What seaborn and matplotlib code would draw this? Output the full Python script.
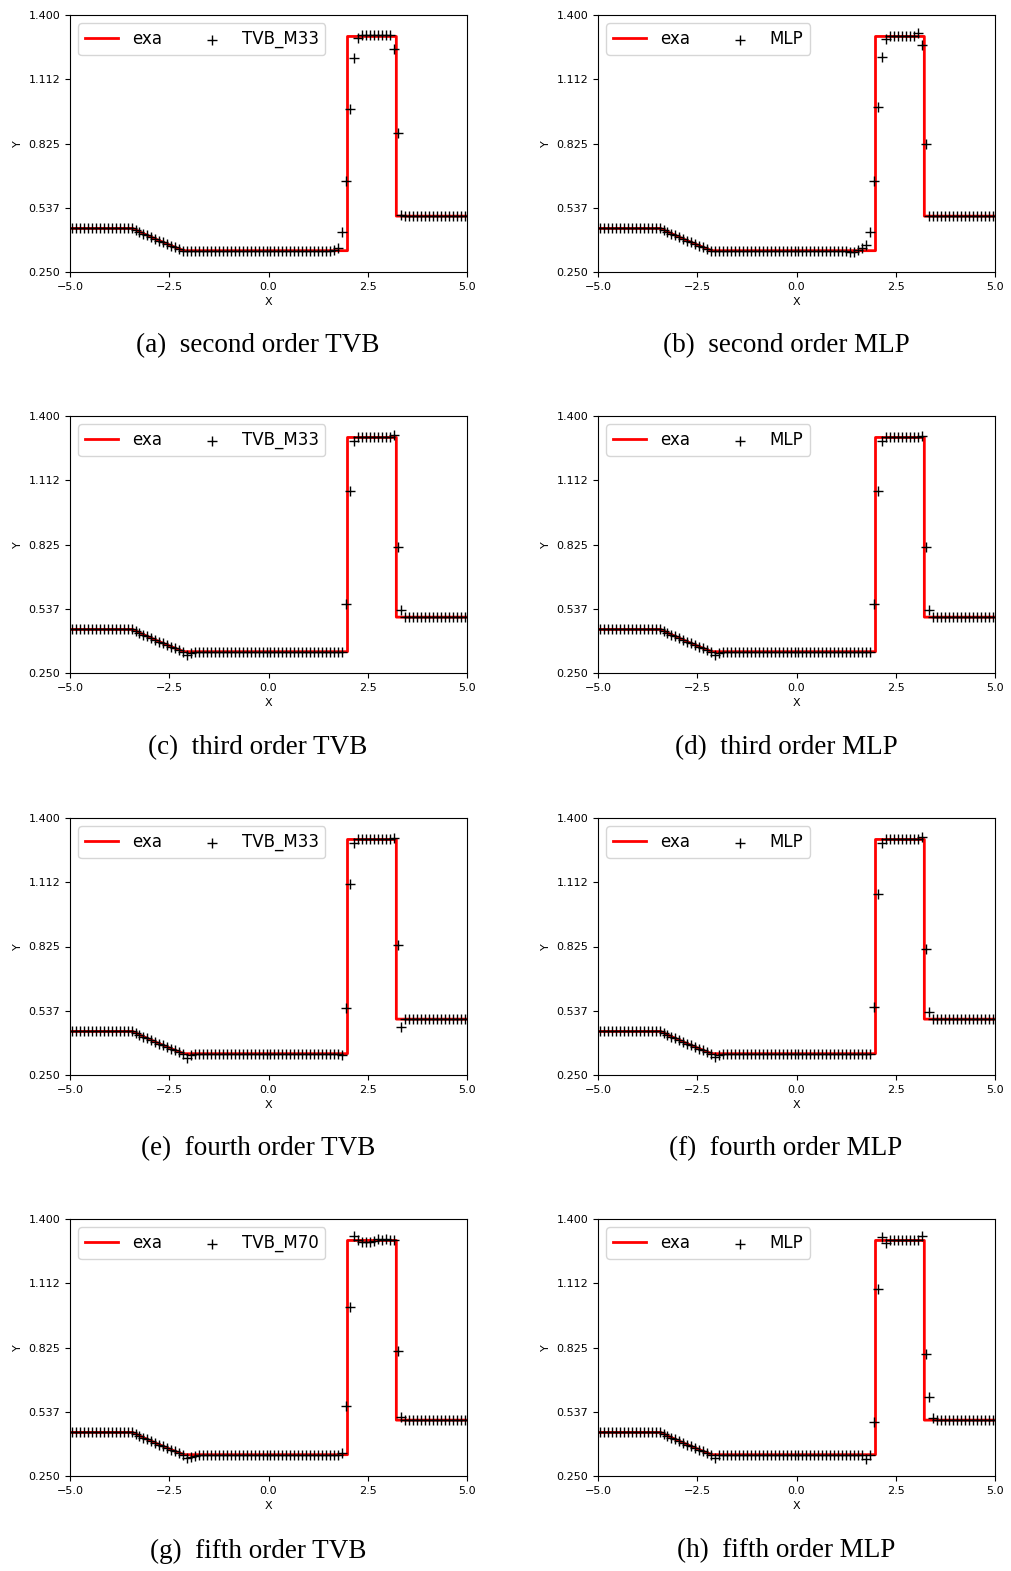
import numpy as np
import matplotlib
matplotlib.use("Agg")
import matplotlib.pyplot as plt
import seaborn as sns

# ---- data -------------------------------------------------------------
# cell centres of the 100-cell grid on [-5, 5]
cell_x = np.round(np.linspace(-4.95, 4.95, 100), 2)

# exact density of the Lax shock tube at t = 1.3
exa_x = [-5.0, -3.42, -3.2, -3.0, -2.8, -2.6, -2.4, -2.2, -2.12, 1.99, 1.99, 3.22, 3.22, 5.0]
exa_rho = [0.445, 0.445, 0.426, 0.410, 0.394, 0.379, 0.364, 0.350, 0.3454,
           0.3454, 1.304, 1.304, 0.5, 0.5]

# numerical density common to all runs away from the discontinuities
base_rho = ([0.445] * 16
            + [0.439, 0.430, 0.422, 0.414, 0.406, 0.398, 0.390,
               0.383, 0.375, 0.368, 0.360, 0.353, 0.346]
            + [0.345] * 41
            + [1.304] * 12
            + [0.5] * 18)

# cell values that differ from the common profile, per run
rho_a = {1.65: 0.350, 1.75: 0.356, 1.85: 0.428, 1.95: 0.657, 2.05: 0.978,
         2.15: 1.206, 2.25: 1.298, 2.35: 1.310, 2.45: 1.310, 2.55: 1.310,
         2.65: 1.310, 2.75: 1.310, 2.85: 1.310, 2.95: 1.310, 3.05: 1.310,
         3.15: 1.248, 3.25: 0.873, 3.35: 0.505}
rho_b = {1.35: 0.340, 1.45: 0.338, 1.55: 0.348, 1.65: 0.356, 1.75: 0.371,
         1.85: 0.429, 1.95: 0.657, 2.05: 0.990, 2.15: 1.213, 2.25: 1.292,
         3.05: 1.318, 3.15: 1.266, 3.25: 0.824}
rho_c = {-2.05: 0.332, -1.95: 0.340, 1.95: 0.558, 2.05: 1.063, 2.15: 1.286,
         3.15: 1.316, 3.25: 0.815, 3.35: 0.532}
rho_d = {-2.05: 0.332, -1.95: 0.340, 1.95: 0.558, 2.05: 1.063, 2.15: 1.286,
         3.15: 1.312, 3.25: 0.815, 3.35: 0.532}
rho_e = {-2.05: 0.328, -1.95: 0.340, 1.85: 0.338, 1.95: 0.552, 2.05: 1.106,
         2.15: 1.290, 3.15: 1.310, 3.25: 0.830, 3.35: 0.467}
rho_f = {-2.05: 0.330, -1.95: 0.340, 1.95: 0.555, 2.05: 1.061, 2.15: 1.287,
         3.15: 1.314, 3.25: 0.815, 3.35: 0.532}
rho_g = {-2.05: 0.332, -1.95: 0.335, -1.85: 0.339, 1.85: 0.352, 1.95: 0.565,
         2.05: 1.005, 2.15: 1.325, 2.25: 1.304, 2.35: 1.297, 2.45: 1.297,
         2.55: 1.297, 2.65: 1.300, 2.75: 1.310, 2.85: 1.305, 2.95: 1.310,
         3.05: 1.307, 3.15: 1.307, 3.25: 0.809, 3.35: 0.515}
rho_h = {-2.05: 0.332, 1.75: 0.324, 1.85: 0.345, 1.95: 0.490, 2.05: 1.087,
         2.15: 1.319, 2.25: 1.292, 3.15: 1.322, 3.25: 0.794, 3.35: 0.605,
         3.45: 0.510}

run_values = [rho_a, rho_b, rho_c, rho_d, rho_e, rho_f, rho_g, rho_h]
run_names = ["TVB_M33", "MLP", "TVB_M33", "MLP", "TVB_M33", "MLP", "TVB_M70", "MLP"]
captions = ["(a)  second order TVB", "(b)  second order MLP",
            "(c)  third order TVB", "(d)  third order MLP",
            "(e)  fourth order TVB", "(f)  fourth order MLP",
            "(g)  fifth order TVB", "(h)  fifth order MLP"]

x_ticks = [-5.0, -2.5, 0.0, 2.5, 5.0]
y_ticks = [0.25, 0.5375, 0.825, 1.1125, 1.4]
y_tick_labels = ["0.250", "0.537", "0.825", "1.112", "1.400"]

# ---- figure -----------------------------------------------------------
W, H = 1011, 1571
fig = plt.figure(figsize=(W / 100, H / 100), dpi=100)
fig.patch.set_facecolor("white")

col_left = [70, 598]
row_top = [15, 416, 818, 1219]
ax_w, ax_h = 397, 257
cap_x = [258, 786]
cap_y = [346, 748, 1149, 1551]

for k in range(8):
    r, c = divmod(k, 2)
    ax = fig.add_axes([col_left[c] / W, 1 - (row_top[r] + ax_h) / H, ax_w / W, ax_h / H])

    rho = np.array(base_rho, dtype=float)
    for xv, val in run_values[k].items():
        rho[np.argmin(np.abs(cell_x - xv))] = val

    sns.lineplot(x=exa_x, y=exa_rho, ax=ax, color="red", linewidth=2.0,
                 sort=False, estimator=None, label="exa")
    sns.scatterplot(x=cell_x, y=rho, ax=ax, marker="+", color="black",
                    s=48, linewidth=1.0, label=run_names[k], zorder=3)

    ax.set_xlim(-5, 5)
    ax.set_ylim(0.25, 1.4)
    ax.set_xticks(x_ticks)
    ax.set_yticks(y_ticks)
    ax.set_yticklabels(y_tick_labels)
    ax.tick_params(labelsize=8, length=3.5, width=0.8)
    ax.set_xlabel("X", fontsize=8, labelpad=4)
    ax.set_ylabel("Y", fontsize=8, labelpad=4)
    for sp in ax.spines.values():
        sp.set_linewidth(0.8)

    ax.legend(loc="upper left", ncol=2, fontsize=12, handlelength=2.0,
              columnspacing=2.0, borderaxespad=0.5)

    fig.text(cap_x[c] / W, 1 - cap_y[r] / H, captions[k], ha="center", va="center",
             fontsize=19.5, family=["Liberation Serif", "DejaVu Serif"])

fig.savefig("out.png", dpi=100)
